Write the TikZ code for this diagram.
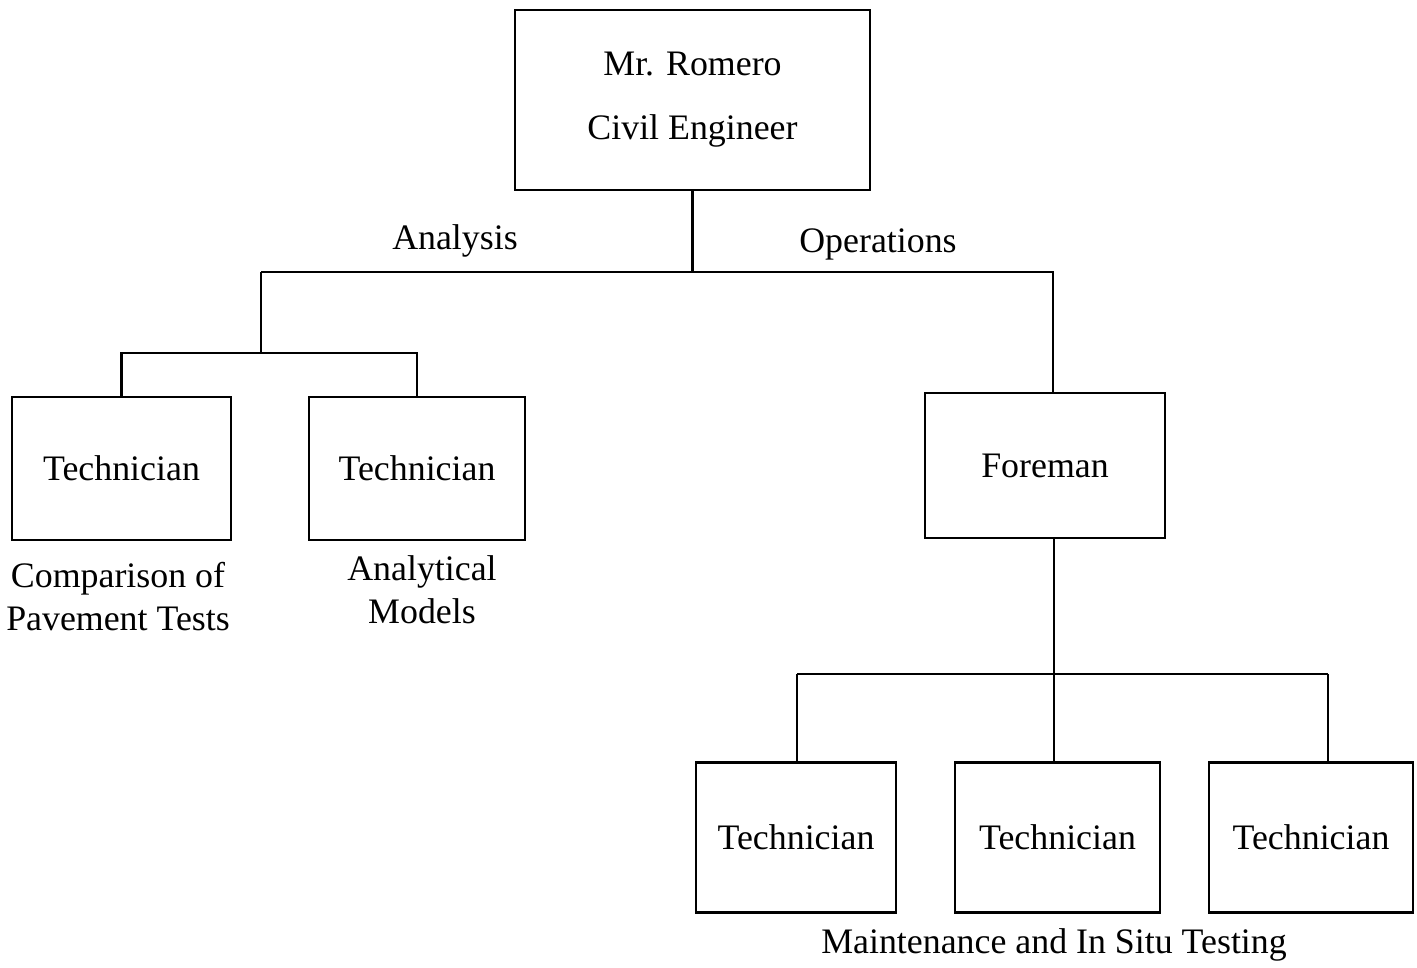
\documentclass[tikz,border=0pt]{standalone}
\usepackage{fontspec}
\setmainfont{Liberation Serif}
\begin{document}
\begin{tikzpicture}[font=\fontsize{10.2}{12.2}\selectfont, line width=0.6pt]
      \tikzset{box/.style={draw, minimum width=2.1cm, minimum height=1.45cm, align=center, inner sep=0pt},
               lbl/.style={align=center, inner sep=0pt}}
      \useasboundingbox (0,0) rectangle (14.17,9.68);
      \node[box, minimum width=3.55cm, minimum height=1.8cm] (romero) at (6.925,8.68) {Mr. Romero\\[6pt]Civil Engineer};
      \node[box, minimum width=2.19cm, minimum height=1.43cm] (techA) at (1.215,4.995) {Technician};
      \node[box, minimum width=2.16cm, minimum height=1.43cm] (techB) at (4.17,4.995) {Technician};
      \node[box, minimum width=2.4cm] (foreman) at (10.45,5.025) {Foreman};
      \node[box, minimum width=2.0cm, minimum height=1.5cm] (techC) at (7.96,1.305) {Technician};
      \node[box, minimum width=2.05cm, minimum height=1.5cm] (techD) at (10.575,1.305) {Technician};
      \node[box, minimum width=2.04cm, minimum height=1.5cm] (techE) at (13.11,1.305) {Technician};
      % junctions of the tree
      \coordinate (top) at (6.925,6.96);
      \coordinate (analysis) at (2.61,6.96);
      \coordinate (operations) at (10.53,6.96);
      \coordinate (left) at (2.61,6.15);
      \coordinate (low) at (10.54,2.94);
      \coordinate (lowleft) at (7.97,2.94);
      \coordinate (lowright) at (13.28,2.94);
      \draw (romero.south) -- (top);
      \draw (analysis) -- (operations) -- (operations |- foreman.north);
      \draw (analysis) -- (left);
      \draw (techA.north) |- (left) -| (techB.north);
      \draw (low |- foreman.south) -- (low);
      \draw (lowleft) -- (lowright);
      \draw (lowleft) -- (lowleft |- techC.north);
      \draw (low) -- (low |- techD.north);
      \draw (lowright) -- (lowright |- techE.north);
      % labels
      \node[lbl] (lanalysis) at (4.55,7.27) {Analysis};
      \node[lbl] (loperations) at (8.78,7.24) {Operations};
      \node[lbl] (lcompare) at (1.18,3.71) {Comparison of\\Pavement Tests};
      \node[lbl] (lmodels) at (4.22,3.78) {Analytical\\Models};
      \node[lbl] (ltesting) at (10.54,0.23) {Maintenance and In Situ Testing};
    \end{tikzpicture}
\end{document}
